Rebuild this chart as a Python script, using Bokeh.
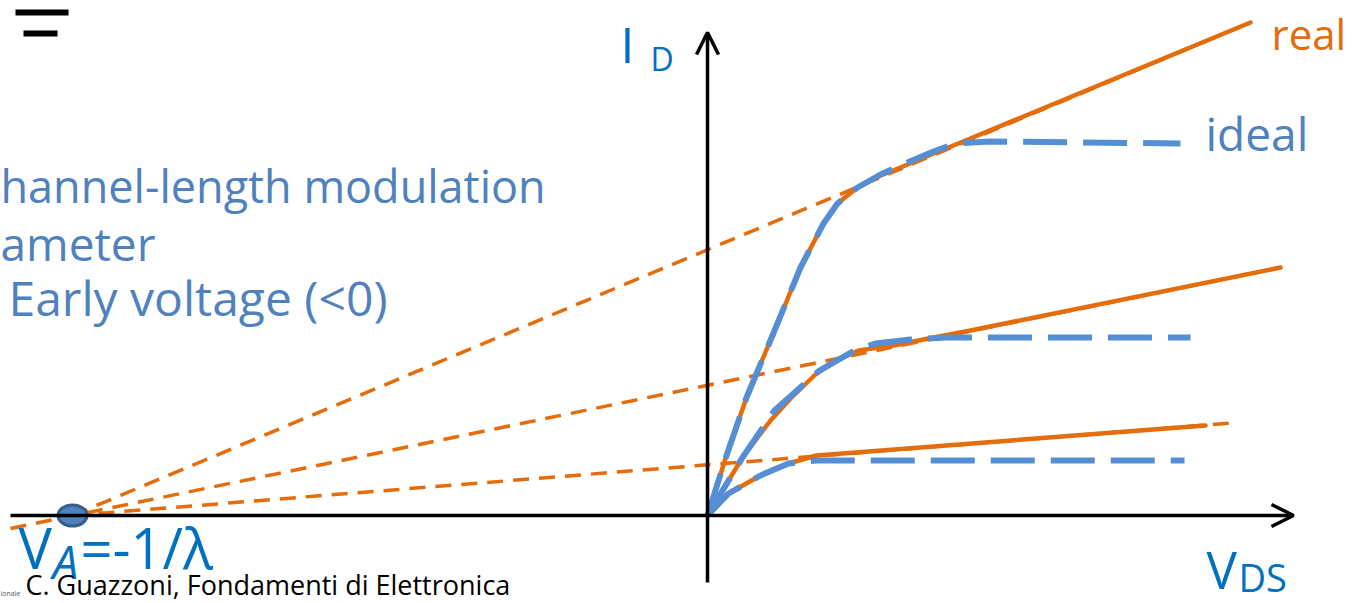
from bokeh.plotting import figure
from bokeh.models import Range1d, Arrow, OpenHead
from bokeh.core.properties import value
from bokeh.embed import file_html
from bokeh.resources import INLINE

# ---- data: V_DS in V, I_D in mA ----
V_A = -6.35  # Early voltage

# real characteristics (with channel-length modulation)
real_top_v = [0, 0.18, 0.39, 0.65, 0.93, 1.16, 1.30, 1.50, 1.73, 1.93, 2.26, 2.46, 5.43]
real_top_i = [0, 0.57, 1.18, 1.80, 2.48, 2.92, 3.12, 3.28, 3.40, 3.48, 3.62, 3.70, 4.93]
real_mid_v = [0, 0.35, 0.63, 0.84, 1.09, 1.33, 1.51, 1.86, 2.21, 2.63, 5.73]
real_mid_i = [0, 0.58, 0.95, 1.18, 1.42, 1.57, 1.65, 1.70, 1.77, 1.85, 2.48]
real_low_v = [0, 0.21, 0.53, 0.81, 1.09, 4.98]
real_low_i = [0, 0.22, 0.40, 0.52, 0.60, 0.90]

# ideal characteristics (flat saturation)
ideal_top_v = [0, 0.18, 0.39, 0.65, 0.93, 1.16, 1.30, 1.50, 1.73, 1.93, 2.26, 2.48, 2.83, 4.73]
ideal_top_i = [0, 0.57, 1.18, 1.80, 2.48, 2.92, 3.12, 3.28, 3.41, 3.50, 3.64, 3.72, 3.74, 3.72]
ideal_mid_v = [0, 0.35, 0.67, 1.12, 1.47, 1.68, 2.03, 2.39, 4.83]
ideal_mid_i = [0, 0.58, 1.05, 1.45, 1.65, 1.72, 1.76, 1.78, 1.78]
ideal_low_v = [0, 0.21, 0.53, 0.81, 1.09, 4.77]
ideal_low_i = [0, 0.22, 0.40, 0.52, 0.55, 0.55]

# extrapolated saturation lines, all meeting at V_A
extra_start_v = [V_A, -6.97, V_A]
extra_start_i = [0, -0.13, 0]
extra_end_v = [5.43, 5.73, 5.30]
extra_end_i = [4.93, 2.48, 0.93]

ORANGE = "#E46C0A"
BLUE_LINE = "#558ED5"
BLUE_TEXT = "#4F81BD"
BLUE_DARK = "#0070C0"
FONT = value("Open Sans")

p = figure(width=1356, height=603, output_backend="svg", toolbar_location=None,
           x_range=Range1d(-7.07, 6.49), y_range=Range1d(-0.88, 5.15),
           x_axis_type=None, y_axis_type=None, min_border=0,
           outline_line_color=None, background_fill_color="white")
p.grid.visible = False

# axes with open arrowheads
p.add_layout(Arrow(end=OpenHead(size=22, line_width=3.5, line_color="black"),
                   x_start=-6.97, y_start=0, x_end=5.86, y_end=0,
                   line_width=3.5, line_color="black"))
p.add_layout(Arrow(end=OpenHead(size=22, line_width=3.5, line_color="black"),
                   x_start=0, y_start=-0.67, x_end=0, y_end=4.83,
                   line_width=3.5, line_color="black"))

# dashed extrapolations
p.segment(x0=extra_start_v, y0=extra_start_i, x1=extra_end_v, y1=extra_end_i,
          line_color=ORANGE, line_width=3.5, line_dash="16 10")

# real curves
for vv, ii in [(real_top_v, real_top_i), (real_mid_v, real_mid_i), (real_low_v, real_low_i)]:
    p.line(vv, ii, line_color=ORANGE, line_width=4.5, line_join="round", line_cap="round")

# ideal curves
for vv, ii in [(ideal_top_v, ideal_top_i), (ideal_mid_v, ideal_mid_i), (ideal_low_v, ideal_low_i)]:
    p.line(vv, ii, line_color=BLUE_LINE, line_width=6, line_dash="44 16", line_join="round")

# Early voltage marker
p.ellipse(x=[V_A], y=[0], width=0.29, height=0.21, fill_color="#4F81BD",
          line_color="#385D8A", line_width=3)

# heading remnants at top-left
p.segment(x0=[-6.92, -6.84], y0=[5.03, 4.82], x1=[-6.39, -6.50], y1=[5.03, 4.82],
          line_color="black", line_width=6)


def label(x, y, s, size, color, style="normal"):
    p.text(x=[x], y=[y], text=[s], text_font=FONT, text_font_size=f"{size}px",
           text_color=color, text_align="left", text_baseline="alphabetic",
           text_font_style=style)


label(5.64, 4.82, "real", 42, ORANGE)
label(4.98, 3.83, "ideal", 46, BLUE_TEXT)

label(-0.87, 4.72, "I", 50, BLUE_DARK)
label(-0.57, 4.57, "D", 32, BLUE_DARK)

label(4.99, -0.53, "V", 51, BLUE_DARK)
label(5.31, -0.61, "DS", 38, BLUE_DARK)

label(-6.89, -0.31, "V", 56, BLUE_DARK)
label(-6.55, -0.45, "A", 46, BLUE_DARK, "italic")
label(-6.27, -0.31, "=-1/\u03bb", 56, BLUE_DARK)

label(-7.07, 3.30, "hannel-length modulation", 45, BLUE_TEXT)
label(-7.07, 2.73, "ameter", 46, BLUE_TEXT)
label(-6.99, 2.18, "Early voltage (<0)", 48, BLUE_TEXT)

label(-6.82, -0.69, "C. Guazzoni, Fondamenti di Elettronica", 27, "black")
label(-7.07, -0.78, "ionale", 7, "#555555")

open("out.html", "w").write(file_html(p, INLINE))
